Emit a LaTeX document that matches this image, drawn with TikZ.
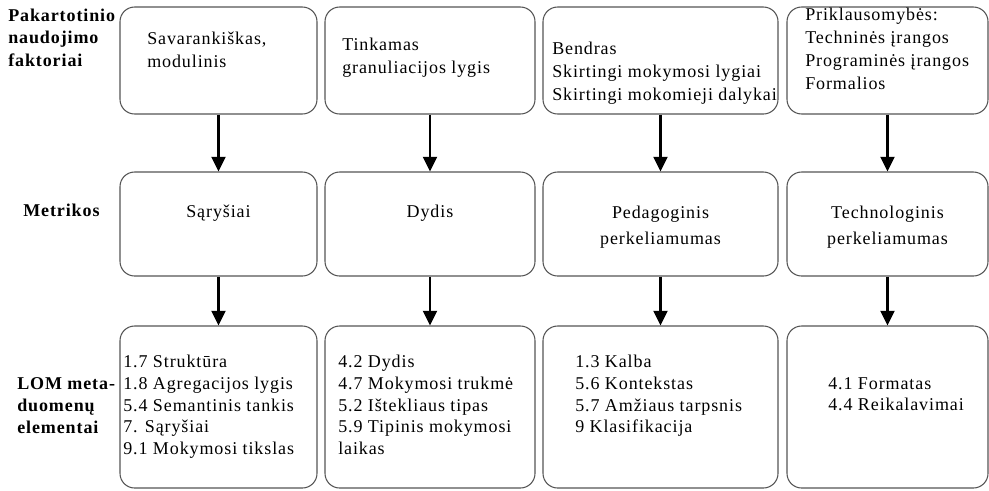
\documentclass[tikz,border=0pt]{standalone}
\usepackage{fontspec}
\setmainfont{Liberation Serif}[LetterSpace=5]
\usepackage{xcolor}
\usepackage{tikz}
\usetikzlibrary{arrows.meta}
\definecolor{BoxEdge}{RGB}{85,85,85}

\begin{document}
\begin{tikzpicture}[x=0.75pt, y=-0.75pt,
  every node/.style={font=\fontsize{13.5}{17.25}\selectfont},
  box/.style={rectangle, rounded corners=11pt, draw=BoxEdge, line width=0.8pt, inner sep=0pt},
  txt/.style={anchor=north west, align=left, inner sep=0pt},
  lst/.style={anchor=north west, align=left, inner sep=0pt, font=\fontsize{13.5}{16.3}\selectfont},
  mid/.style={align=center, inner sep=0pt, font=\fontsize{13.5}{19.5}\selectfont},
  lbl/.style={anchor=north west, align=left, inner sep=0pt, font=\fontsize{13.5}{16.6}\selectfont\bfseries},
  flow/.style={-{Triangle[width=10.5pt,length=11pt]}, line width=1.6pt}
]
\useasboundingbox (0,0) rectangle (989,490);

% left labels
\node[lbl] (lfac) at (8, 9) {Pakartotinio\\naudojimo\\faktoriai};
\node[lbl] (lmet) at (23, 204) {Metrikos};
\node[lbl] (llom) at (17, 377) {LOM meta-\\duomenų\\elementai};

% boxes
\node[box, minimum width=147.75pt, minimum height=80.25pt] (fac1) at (218.5, 60.5) {};
\node[box, minimum width=157.5pt, minimum height=80.25pt] (fac2) at (430, 60.5) {};
\node[box, minimum width=176.25pt, minimum height=80.25pt] (fac3) at (660.5, 60.5) {};
\node[box, minimum width=150.75pt, minimum height=80.25pt] (fac4) at (887.5, 60.5) {};

\node[box, minimum width=147.75pt, minimum height=78pt] (met1) at (218.5, 224) {};
\node[box, minimum width=157.5pt, minimum height=78pt] (met2) at (430, 224) {};
\node[box, minimum width=176.25pt, minimum height=78pt] (met3) at (660.5, 224) {};
\node[box, minimum width=150.75pt, minimum height=78pt] (met4) at (887.5, 224) {};

\node[box, minimum width=147.75pt, minimum height=121.5pt] (lom1) at (218.5, 407) {};
\node[box, minimum width=157.5pt, minimum height=121.5pt] (lom2) at (430, 407) {};
\node[box, minimum width=176.25pt, minimum height=121.5pt] (lom3) at (660.5, 407) {};
\node[box, minimum width=150.75pt, minimum height=121.5pt] (lom4) at (887.5, 407) {};

% box texts
\node[txt] (fac1t) at (147, 32) {Savarankiškas,\\modulinis};
\node[txt] (fac2t) at (342, 38) {Tinkamas\\granuliacijos lygis};
\node[txt] (fac3t) at (552, 42) {Bendras\\Skirtingi mokymosi lygiai\\Skirtingi mokomieji dalykai};
\node[txt] (fac4t) at (805, 8) {Priklausomybės:\\Techninės įrangos\\Programinės įrangos\\Formalios};

\node[mid] (met1t) at (218.5, 213) {Sąryšiai};
\node[mid] (met2t) at (430, 213) {Dydis};
\node[mid] (met3t) at (660.5, 227) {Pedagoginis\\perkeliamumas};
\node[mid] (met4t) at (887.5, 227) {Technologinis\\perkeliamumas};

\node[lst] (lom1t) at (123, 355) {1.7 Struktūra\\1.8 Agregacijos lygis\\5.4 Semantinis tankis\\7. Sąryšiai\\9.1 Mokymosi tikslas};
\node[lst] (lom2t) at (338, 355) {4.2 Dydis\\4.7 Mokymosi trukmė\\5.2 Ištekliaus tipas\\5.9 Tipinis mokymosi\\laikas};
\node[lst] (lom3t) at (575, 355) {1.3 Kalba\\5.6 Kontekstas\\5.7 Amžiaus tarpsnis\\9 Klasifikacija};
\node[lst] (lom4t) at (828, 377) {4.1 Formatas\\4.4 Reikalavimai};

\draw[flow] (fac1) -- (met1);
\draw[flow] (fac2) -- (met2);
\draw[flow] (fac3) -- (met3);
\draw[flow] (fac4) -- (met4);
\draw[flow] (met1) -- (lom1);
\draw[flow] (met2) -- (lom2);
\draw[flow] (met3) -- (lom3);
\draw[flow] (met4) -- (lom4);
\end{tikzpicture}
\end{document}
